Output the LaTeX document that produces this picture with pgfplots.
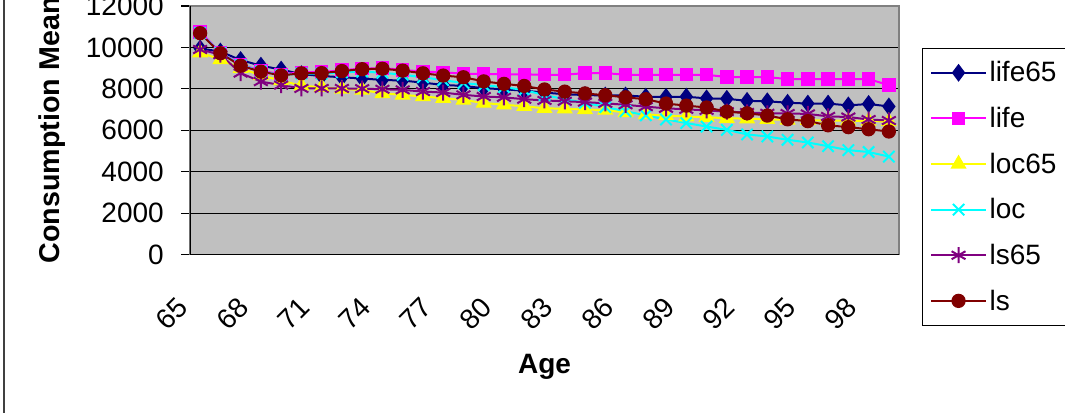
\documentclass[border=0pt]{standalone}
\usepackage{pgfplots}
\pgfplotsset{compat=1.18}
\usepackage{pgfplotstable}
\usepackage{fontspec}
\setmainfont{Liberation Sans}
\definecolor{cA}{RGB}{0,0,128}
\definecolor{cB}{RGB}{255,0,255}
\definecolor{cC}{RGB}{255,255,0}
\definecolor{cD}{RGB}{0,255,255}
\definecolor{cE}{RGB}{128,0,128}
\definecolor{cF}{RGB}{128,0,0}
\definecolor{bgGrey}{RGB}{192,192,192}
\definecolor{frGrey}{RGB}{128,128,128}
\pgfplotstableread{
age life65 life loc65 loc ls65 ls
65 9950 10750 9750 10700 9900 10690
66 9800 9760 9420 9740 9650 9720
67 9390 9170 9000 9150 8760 9120
68 9120 8880 8650 8850 8350 8830
69 8930 8700 8400 8660 8180 8650
70 8710 8800 8150 8740 8020 8750
71 8620 8810 8080 8740 8020 8760
72 8560 8900 7990 8800 8020 8860
73 8500 8980 7950 8830 8010 8950
74 8430 9000 7780 8780 7980 8970
75 8400 8920 7710 8680 7950 8880
76 8300 8830 7630 8560 7870 8750
77 8190 8800 7550 8420 7820 8640
78 8140 8730 7460 8280 7710 8560
79 8030 8720 7320 8180 7630 8360
80 7980 8700 7230 8080 7590 8240
81 7910 8700 7160 7940 7500 8140
82 7820 8680 7060 7700 7440 7970
83 7740 8680 7040 7500 7400 7865
84 7700 8760 7000 7330 7360 7780
85 7680 8760 6980 7120 7300 7690
86 7680 8680 6860 6920 7230 7590
87 7620 8680 6760 6720 7140 7500
88 7610 8680 6710 6520 7060 7290
89 7620 8680 6660 6350 7010 7190
90 7540 8680 6630 6180 6960 7100
91 7520 8570 6580 6020 6900 6900
92 7420 8570 6560 5800 6860 6820
93 7400 8570 6530 5700 6820 6710
94 7330 8470 6500 5540 6810 6530
95 7290 8470 6490 5410 6790 6440
96 7290 8470 6470 5230 6670 6240
97 7200 8470 6460 5040 6640 6150
98 7270 8470 6450 4950 6520 6050
99 7150 8180 6420 4730 6470 5940
}\datatable
\begin{document}
\begin{tikzpicture}
\begin{axis}[
  at={(0,0)}, anchor=south west,
  scale only axis, width=531.75pt, height=186.4pt,
  xmin=64.5, xmax=99.5, ymin=0, ymax=12000,
  ytick={0,2000,...,12000},
  scaled y ticks=false,
  xtick={65,68,...,98},
  minor xtick={64.5,65.5,...,99.5},
  xtick pos=left, ytick pos=left,
  tick align=outside,
  major tick length=6.5pt, minor tick length=7.5pt,
  xtick style={draw=none},
  ytick style={black, line width=0.8pt},
  minor x tick style={black, line width=0.8pt},
  ymajorgrids,
  major grid style={black, line width=0.8pt},
  axis background/.style={fill=bgGrey},
  axis line style={draw=frGrey, line width=1pt},
  /pgf/number format/1000 sep={},
  /pgf/number format/assume math mode=true,
  tick label style={font=\fontsize{21}{25}\selectfont},
  yticklabel style={anchor=east, inner sep=0pt, xshift=-13pt},
  xticklabel style={anchor=center, inner sep=0pt, xshift=-21pt, yshift=-38pt, rotate=45},
  xlabel={Age},
  xlabel style={at={([yshift=-84pt]axis description cs:0.5,0)}, anchor=center, font=\fontsize{21}{25}\selectfont\bfseries},
  ylabel={Consumption Mean},
  ylabel style={at={([xshift=-103.5pt]axis description cs:0,0.5)}, anchor=center, font=\fontsize{21.5}{25}\selectfont\bfseries},
  legend style={at={(1.0324,0.831)}, anchor=north west, draw=black, fill=white,
    font=\fontsize{21}{25}\selectfont, row sep=13.5pt, inner xsep=6pt, inner ysep=8pt},
  legend cell align=left,
  legend image code/.code={\draw[mark repeat=2,mark phase=2] plot coordinates {(0pt,0pt)(20.5pt,0pt)(41pt,0pt)};},
  every axis plot/.append style={line width=1.5pt},
]
\addplot[color=cA, mark=diamond*, mark size=5.5pt, mark options={solid}] table[x=age,y=life65] {\datatable};
\addlegendentry{life65}
\addplot[color=cB, mark=square*, mark size=4.3pt, mark options={solid}] table[x=age,y=life] {\datatable};
\addlegendentry{life}
\addplot[color=cC, mark=triangle*, mark size=5.5pt, mark options={solid}] table[x=age,y=loc65] {\datatable};
\addlegendentry{loc65}
\addplot[color=cD, mark=x, mark size=6pt, mark options={solid}] table[x=age,y=loc] {\datatable};
\addlegendentry{loc}
\addplot[color=cE, mark=asterisk, mark size=6pt, mark options={solid}] table[x=age,y=ls65] {\datatable};
\addlegendentry{ls65}
\addplot[color=cF, mark=*, mark size=4.6pt, mark options={solid}] table[x=age,y=ls] {\datatable};
\addlegendentry{ls}
\draw[black, line width=1pt] (rel axis cs:0,1) -- (rel axis cs:0,0) -- (rel axis cs:1,0);
\end{axis}
\draw[line width=1.1pt, color=black!75] (-139.5pt,-130pt) -- (-139.5pt,200pt);
\pgfresetboundingbox
\path[use as bounding box] (-142.5pt,-118.1pt) rectangle (656.25pt,190.9pt);
\end{tikzpicture}
\end{document}
